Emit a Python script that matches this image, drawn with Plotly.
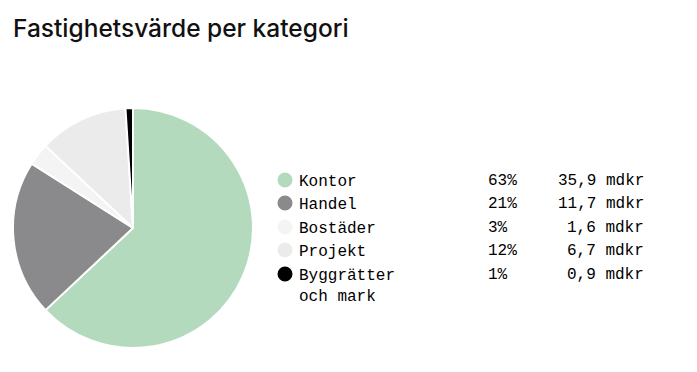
import plotly.graph_objects as go

W, H = 697, 372

categories = ["Kontor", "Handel", "Bostäder", "Projekt", "Byggrätter<br>och mark"]
shares = [63, 21, 3, 12, 1]
amounts = [35.9, 11.7, 1.6, 6.7, 0.9]
colors = ["#b4dabe", "#8a8a8c", "#f4f4f4", "#ebebeb", "#000000"]

percent_labels = [f"{s}%" for s in shares]
value_labels = [f"{a:.1f}".replace(".", ",") + " mdkr" for a in amounts]

def px(x):
    return x / W

def py(y):
    return 1 - y / H

fig = go.Figure()
fig.add_trace(go.Pie(
    labels=categories,
    values=shares,
    sort=False,
    direction="clockwise",
    rotation=0,
    marker=dict(colors=colors, line=dict(color="white", width=2)),
    textinfo="none",
    hoverinfo="label+percent",
    showlegend=False,
    domain=dict(x=[px(13), px(253)], y=[py(348), py(108)]),
))

mono = "Liberation Mono"
row_y = [180, 203, 227, 250, 274]
annotations = []
shapes = []
for i, (cat, pct, val, col) in enumerate(zip(categories, percent_labels, value_labels, colors)):
    yc = row_y[i]
    r = 7.5
    shapes.append(dict(type="circle", xref="paper", yref="paper",
                       x0=px(285 - r), x1=px(285 + r), y0=py(yc + r), y1=py(yc - r),
                       fillcolor=col, line=dict(width=0)))
    annotations.append(dict(xref="paper", yref="paper", x=px(297), y=py(yc - 9),
                            xanchor="left", yanchor="top", align="left",
                            text=cat, showarrow=False,
                            font=dict(family=mono, size=16, color="#000")))
    annotations.append(dict(xref="paper", yref="paper", x=px(486), y=py(yc + 1),
                            xanchor="left", yanchor="middle",
                            text=pct, showarrow=False,
                            font=dict(family=mono, size=16, color="#000")))
    annotations.append(dict(xref="paper", yref="paper", x=px(646), y=py(yc + 1),
                            xanchor="right", yanchor="middle",
                            text=val, showarrow=False,
                            font=dict(family=mono, size=16, color="#000")))

fig.update_layout(
    width=W, height=H,
    margin=dict(l=0, r=0, t=0, b=0),
    paper_bgcolor="white",
    plot_bgcolor="white",
    title=dict(text="Fastighetsvärde per kategori", x=px(13), xanchor="left",
               y=py(28), yanchor="middle",
               font=dict(family="Inter", size=24.5, color="#111", weight=500)),
    annotations=annotations,
    shapes=shapes,
)

fig.write_html("out.html", config={"displayModeBar": False},
               post_script="document.body.style.margin='0';document.body.style.padding='0';")
